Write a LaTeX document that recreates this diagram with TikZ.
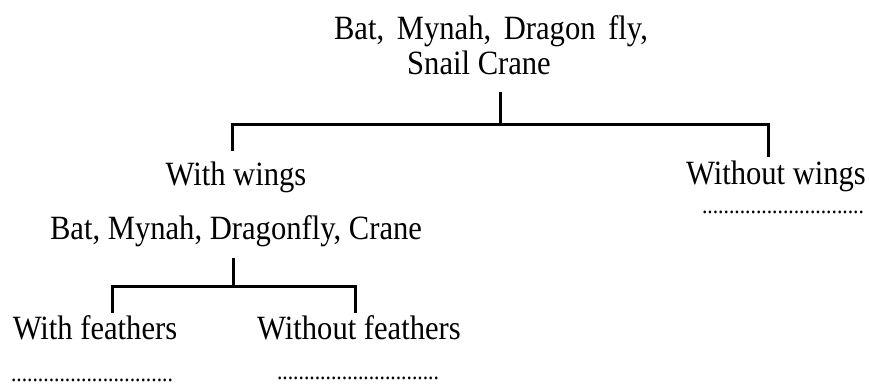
\documentclass[tikz,border=0pt]{standalone}
\usepackage{fontspec}
\setmainfont{Liberation Serif}[FakeStretch=0.9]

\begin{document}
\begin{tikzpicture}[
    x=1pt, y=1pt,
    label/.style={anchor=base, inner sep=0pt, font=\fontsize{34}{40}\selectfont},
    blank/.style={anchor=base, inner sep=0pt, font=\fontsize{24}{28}\selectfont},
    branch/.style={draw, line width=3pt}
]
    % Define levels
    \def\topY{348}
    \def\barY{263}
    \def\midY{148}
    \def\subY{101}
    \def\leafY{48}

    \useasboundingbox (0,0) rectangle (870,388);

    % Labels
    \node[label] (root) at (491, \topY) {Bat,\hspace{5pt} Mynah,\hspace{5pt} Dragon\hspace{5pt} fly,};
    \node[label] (rootb) at (479, 313) {Snail Crane};
    \node[label] (wings) at (236, 202) {With wings};
    \node[label] (winglist) at (236, \midY) {Bat, Mynah, Dragonfly, Crane};
    \node[label] (nowings) at (776, 203) {Without wings};
    \node[blank] (nowingsdots) at (783, 174) {..............................};
    \node[label] (feathers) at (95, \leafY) {With feathers};
    \node[label] (nofeathers) at (359, \leafY) {Without feathers};
    \node[blank] (feathersdots) at (92, 6) {..............................};
    \node[blank] (nofeathersdots) at (358, 8) {..............................};

    % Junctions
    \coordinate (stem) at (500, 296);
    \coordinate (fork) at (500, \barY);
    \coordinate (forkl) at (232, \barY);
    \coordinate (forkr) at (768, \barY);
    \coordinate (stemb) at (233, 130);
    \coordinate (forkb) at (233, \subY);
    \coordinate (forkbl) at (112, \subY);
    \coordinate (forkbr) at (355, \subY);

    % First split
    \draw[branch] (stem) -- (fork);
    \draw[branch] (forkl) ++(0,-26) -- (forkl) -- (forkr) -- ++(0,-32);

    % Second split
    \draw[branch] (stemb) -- (forkb);
    \draw[branch] (forkbl) ++(0,-26) -- (forkbl) -- (forkbr) -- ++(0,-26);

\end{tikzpicture}
\end{document}
